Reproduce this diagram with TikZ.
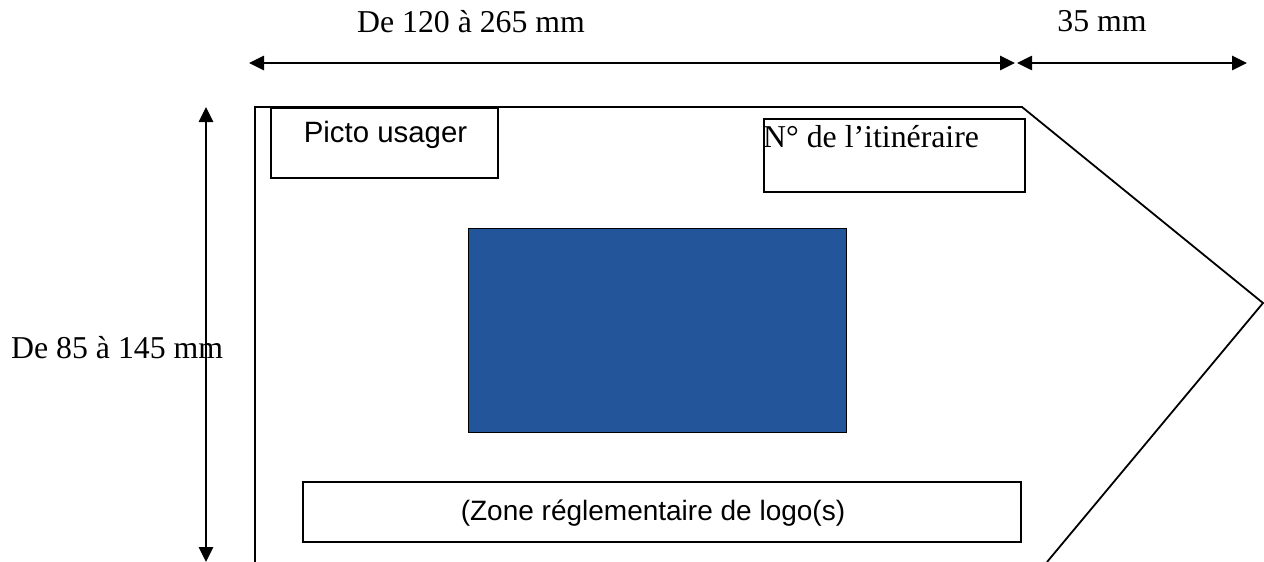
\documentclass[tikz,border=0pt]{standalone}
\usepackage{fontspec}
\setmainfont{Liberation Serif}
\newfontfamily\arialf{Liberation Sans}
\usetikzlibrary{arrows.meta}
\definecolor{panelblue}{HTML}{22559A}
\begin{document}
\begin{tikzpicture}[x=1pt,y=-1pt,
  dimline/.style={line width=2.6pt,{Triangle[length=15pt,width=14pt]}-{Triangle[length=15pt,width=14pt]}},
  outline/.style={line width=1.8pt,line join=miter},
  boxstyle/.style={draw,line width=1.8pt,inner sep=0pt},
  serif/.style={font=\fontsize{31.8}{38}\selectfont},
  sans/.style={font=\arialf\fontsize{29.4}{35}\selectfont},
  sanszone/.style={font=\arialf\fontsize{28}{34}\selectfont}]
\useasboundingbox (0,0) rectangle (1264,562);
% dimension arrows
\coordinate (hl) at (249,63);
\coordinate (hm) at (1015,63);
\coordinate (hm2) at (1017,63);
\coordinate (hr) at (1247,63);
\coordinate (vt) at (206,107);
\coordinate (vb) at (206,562);
\draw[dimline] (hl) -- (hm);
\draw[dimline] (hm2) -- (hr);
\draw[dimline] (vt) -- (vb);
\node[serif,anchor=base] (t1) at (471,32) {De 120 à 265 mm};
\node[serif,anchor=base] (t2) at (1102,31) {35 mm};
\node[serif,anchor=base west,inner sep=0pt] (t3) at (11,358) {De 85 à 145 mm};
% panel outline
\coordinate (p1) at (255,562);
\coordinate (p2) at (255,107);
\coordinate (p3) at (1022,107);
\coordinate (p4) at (1263,303);
\coordinate (p5) at (1047,562);
\draw[outline] (p1) -- (p2) -- (p3) -- (p4) -- (p5);
% boxes
\node[boxstyle,minimum width=227pt,minimum height=70pt,anchor=north west] (picto) at (270,107) {};
\node[sans,anchor=base] (pictot) at (385.5,142) {Picto usager};
\node[boxstyle,minimum width=261pt,minimum height=73pt,anchor=north west] (num) at (763,118) {};
\node[serif,anchor=base west,inner sep=0pt] (numt) at (763,147) {N° de l’itinéraire};
\node[draw=black,line width=1.2pt,fill=panelblue,minimum width=378pt,minimum height=204pt,anchor=north west,inner sep=0pt] (blue) at (468,228) {};
\node[boxstyle,minimum width=718pt,minimum height=60pt,anchor=north west] (zone) at (302,481) {};
\node[sanszone,anchor=base] (zonet) at (653,520) {(Zone réglementaire de logo(s)};
\end{tikzpicture}
\end{document}
